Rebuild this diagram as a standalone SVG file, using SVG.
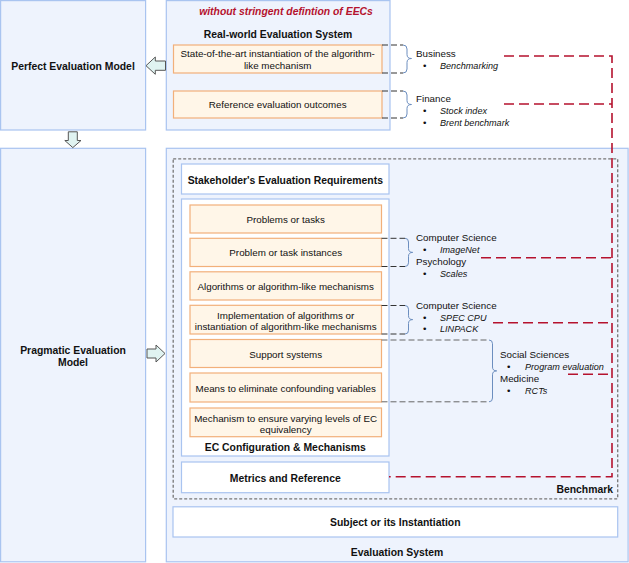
<svg xmlns="http://www.w3.org/2000/svg" width="629" height="563" viewBox="0 0 629 563">
<style>
text{font-family:"Liberation Sans",Arial,Helvetica,sans-serif;fill:#111;}
.n{font-size:9.8px;}
.b{font-size:10.4px;font-weight:bold;}
.i{font-size:9.1px;font-style:italic;}
.c{text-anchor:middle;}
.big{fill:#EEF3FD;stroke:#A9C4F0;stroke-width:1.2;}
.wb{fill:#FFFFFF;stroke:#A9C4F0;stroke-width:1.2;}
.ob{fill:#FFF6E8;stroke:#F2B07A;stroke-width:1.2;}
.bench{fill:none;stroke:#777;stroke-width:1.3;stroke-dasharray:3,2;}
.blk{fill:none;stroke:#333;stroke-width:1;stroke-dasharray:6,3;}
.gry{fill:none;stroke:#666;stroke-width:1;stroke-dasharray:6,3;}
.brace{fill:none;stroke:#6C8EBF;stroke-width:1;}
.red{fill:none;stroke:#B5122E;stroke-width:1.6;stroke-dasharray:10,5;}
.arr{fill:#E0F3F1;stroke:#555;stroke-width:1;}
</style>

<g id="perfect-model">
<rect class="big" x="0.6" y="0.6" width="145" height="129.4"/>
<text class="b c" x="73" y="69.5">Perfect Evaluation Model</text>
</g>

<g id="pragmatic-model">
<rect class="big" x="0.6" y="148.3" width="145" height="413.5"/>
<text class="b c" x="73" y="353.5">Pragmatic Evaluation</text>
<text class="b c" x="73" y="365.5">Model</text>
</g>

<g id="real-world-system">
<rect class="big" x="166.3" y="0.6" width="223.7" height="129.4"/>
<text class="b c" x="286" y="15" style="fill:#B5122E;font-style:italic">without stringent defintion of EECs</text>
<text class="b c" x="278" y="37.5">Real-world Evaluation System</text>
</g>

<g id="sota-instantiation">
<rect class="ob" x="173.5" y="45" width="208.5" height="28"/>
<text class="n c" x="277.7" y="57">State-of-the-art instantiation of the algorithm-</text>
<text class="n c" x="277.7" y="68.5">like mechanism</text>
</g>

<g id="reference-outcomes">
<rect class="ob" x="173.5" y="91" width="208.5" height="27"/>
<text class="n c" x="277.7" y="108">Reference evaluation outcomes</text>
</g>

<g id="evaluation-system">
<rect class="big" x="166.3" y="148.3" width="461.8" height="413.5"/>
<text class="b c" x="397" y="556">Evaluation System</text>
</g>

<g id="benchmark">
<rect class="bench" x="173.2" y="158.8" width="444.5" height="340"/>
<text class="b" x="613" y="492.5" style="text-anchor:end">Benchmark</text>
</g>

<g id="stakeholder-requirements">
<rect class="wb" x="181.5" y="164" width="207.5" height="30"/>
<text class="b c" x="285.3" y="183.5">Stakeholder's Evaluation Requirements</text>
</g>

<g id="ec-configuration">
<rect class="wb" x="181.5" y="199" width="207.5" height="257"/>
<text class="b c" x="285.3" y="450.5">EC Configuration &amp; Mechanisms</text>
</g>

<g id="problems-tasks">
<rect class="ob" x="190" y="205" width="191.5" height="28"/>
<text class="n c" x="285.7" y="222.5">Problems or tasks</text>
</g>
<g id="task-instances">
<rect class="ob" x="190" y="238.3" width="191.5" height="28.2"/>
<text class="n c" x="285.7" y="256">Problem or task instances</text>
</g>
<g id="algorithms">
<rect class="ob" x="190" y="271.8" width="191.5" height="28.2"/>
<text class="n c" x="285.7" y="289.5">Algorithms or algorithm-like mechanisms</text>
</g>
<g id="implementation">
<rect class="ob" x="190" y="305.3" width="191.5" height="28.7"/>
<text class="n c" x="285.7" y="318.5">Implementation of algorithms or</text>
<text class="n c" x="285.7" y="329.5">instantiation of algorithm-like mechanisms</text>
</g>
<g id="support-systems">
<rect class="ob" x="190" y="339.5" width="191.5" height="28"/>
<text class="n c" x="285.7" y="357.5">Support systems</text>
</g>
<g id="confounding">
<rect class="ob" x="190" y="373" width="191.5" height="29"/>
<text class="n c" x="285.7" y="391.5">Means to eliminate confounding variables</text>
</g>
<g id="ec-equivalency">
<rect class="ob" x="190" y="408" width="191.5" height="28.7"/>
<text class="n c" x="285.7" y="421.5">Mechanism to ensure varying levels of EC</text>
<text class="n c" x="285.7" y="432.5">equivalency</text>
</g>

<g id="metrics-reference">
<rect class="wb" x="181.5" y="462" width="207.5" height="30.7"/>
<text class="b c" x="285.3" y="481.5">Metrics and Reference</text>
</g>

<g id="subject">
<rect class="wb" x="173" y="506.8" width="444.7" height="30.2"/>
<text class="b c" x="395.3" y="525.5">Subject or its Instantiation</text>
</g>

<g id="labels">
<text class="n" x="416" y="57">Business</text>
<text class="n" x="423" y="69">•</text><text class="i" x="440" y="69">Benchmarking</text>
<text class="n" x="416" y="101.5">Finance</text>
<text class="n" x="423" y="113.5">•</text><text class="i" x="440" y="113.5">Stock index</text>
<text class="n" x="423" y="125.5">•</text><text class="i" x="440" y="125.5">Brent benchmark</text>

<text class="n" x="416" y="241">Computer Science</text>
<text class="n" x="423" y="253">•</text><text class="i" x="440" y="253">ImageNet</text>
<text class="n" x="416" y="265">Psychology</text>
<text class="n" x="423" y="276.5">•</text><text class="i" x="440" y="276.5">Scales</text>

<text class="n" x="416" y="308.5">Computer Science</text>
<text class="n" x="423" y="320.5">•</text><text class="i" x="440" y="320.5">SPEC CPU</text>
<text class="n" x="423" y="332">•</text><text class="i" x="440" y="332">LINPACK</text>

<text class="n" x="500" y="358">Social Sciences</text>
<text class="n" x="507" y="370">•</text><text class="i" x="525" y="370">Program evaluation</text>
<text class="n" x="500" y="381.5">Medicine</text>
<text class="n" x="507" y="393.5">•</text><text class="i" x="525" y="393.5">RCTs</text>
</g>

<g id="connectors">
<!-- block arrows -->
<path class="arr" d="M146,65.7 L155.3,57 L155.3,61 L165.5,61 L165.5,70.3 L155.3,70.3 L155.3,74.3 Z"/>
<path class="arr" d="M68.3,131.8 L77.3,131.8 L77.3,140.5 L81,140.5 L72.8,147.6 L64.8,140.5 L68.3,140.5 Z"/>
<path class="arr" d="M147,349 L156,349 L156,345 L165,353.5 L156,362 L156,358 L147,358 Z"/>

<!-- dashed bracket leaders -->
<path class="blk" d="M382,45 H403 M382,73 H403"/>
<path class="blk" d="M382,91 H403 M382,118 H403"/>
<path class="blk" d="M381.5,238.3 H405 M381.5,266.5 H405"/>
<path class="blk" d="M381.5,305.5 H405 M381.5,334 H405"/>
<path class="gry" d="M381.5,340 H489 M381.5,401.8 H489"/>

<!-- curly braces -->
<path class="brace" d="M403,45 Q407,45 407,49 L407,54.5 Q407,58.5 411.5,58.5 Q407,58.5 407,62.5 L407,69 Q407,73 403,73"/>
<path class="brace" d="M403,91 Q407,91 407,95 L407,100.5 Q407,104.5 411.5,104.5 Q407,104.5 407,108.5 L407,114 Q407,118 403,118"/>
<path class="brace" d="M405,238.3 Q408.5,238.3 408.5,242 L408.5,248.5 Q408.5,252.4 412.7,252.4 Q408.5,252.4 408.5,256.3 L408.5,262.8 Q408.5,266.5 405,266.5"/>
<path class="brace" d="M405,305.5 Q408.5,305.5 408.5,309.2 L408.5,315.7 Q408.5,319.6 412.7,319.6 Q408.5,319.6 408.5,323.5 L408.5,330.3 Q408.5,334 405,334"/>
<path class="brace" d="M489,340 Q492.5,340 492.5,343.7 L492.5,367 Q492.5,370.9 496.7,370.9 Q492.5,370.9 492.5,374.8 L492.5,398 Q492.5,401.8 489,401.8"/>

<!-- red dashed links -->
<path class="red" d="M504,56 H612 V476.7 H389"/>
<path class="red" d="M504,104 H612"/>
<path class="red" d="M481,257.7 H612"/>
<path class="red" d="M493,322.7 H612"/>
<path class="red" d="M568,374.3 H612"/>
</g>
</svg>
